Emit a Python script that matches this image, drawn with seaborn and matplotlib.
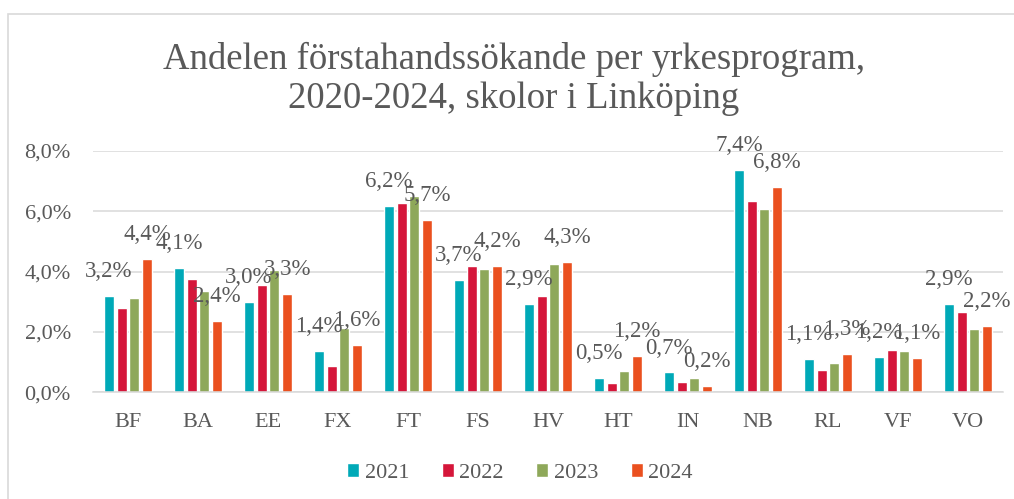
import matplotlib
matplotlib.use("Agg")
import matplotlib.pyplot as plt
import seaborn as sns
import pandas as pd
from matplotlib.patches import Rectangle

categories = ["BF", "BA", "EE", "FX", "FT", "FS", "HV", "HT", "IN", "NB", "RL", "VF", "VO"]
years = ["2021", "2022", "2023", "2024"]
v2021 = [3.20, 4.12, 3.00, 1.38, 6.17, 3.72, 2.93, 0.48, 0.66, 7.38, 1.10, 1.18, 2.93]
v2022 = [2.80, 3.76, 3.56, 0.87, 6.26, 4.19, 3.20, 0.31, 0.34, 6.35, 0.74, 1.40, 2.66]
v2023 = [3.13, 3.36, 4.06, 2.14, 6.51, 4.09, 4.25, 0.71, 0.47, 6.08, 0.97, 1.37, 2.10]
v2024 = [4.42, 2.38, 3.27, 1.57, 5.71, 4.19, 4.33, 1.20, 0.21, 6.81, 1.26, 1.14, 2.20]
yticks = [0, 2, 4, 6, 8]
title = "Andelen förstahandssökande per yrkesprogram,\n2020-2024, skolor i Linköping"
colors = ["#00A9B7", "#D5163A", "#8EA85A", "#EA501F"]

rows = []
for yr, vals in zip(years, [v2021, v2022, v2023, v2024]):
    for c, v in zip(categories, vals):
        rows.append({"kat": c, "år": yr, "andel": v / 100})
df = pd.DataFrame(rows)

sns.set_theme(style="white")
plt.rcParams["font.family"] = ["Liberation Serif", "DejaVu Serif"]
txt = "#595959"
serif = ["Liberation Serif", "DejaVu Serif"]

fig = plt.figure(figsize=(10.14, 4.99), dpi=100)
ax = fig.add_axes([93 / 1014, 1 - 392.3 / 499, 910 / 1014, (392.3 - 151) / 499])

sns.barplot(data=df, x="kat", y="andel", hue="år", palette=colors,
            width=0.73, gap=0.2, ax=ax, legend=True, saturation=1, errorbar=None)

ax.set_ylim(0, 0.08)
ax.set_xlim(-0.5, len(categories) - 0.5)
ax.set_yticks([t / 100 for t in yticks])
ax.set_yticklabels([f"{t:.1f}%".replace(".", ",") for t in yticks])
ax.set_xlabel("")
ax.set_ylabel("")
ax.grid(axis="y", color="#D9D9D9", linewidth=1.1)
ax.set_axisbelow(True)
for s in ["left", "right", "top"]:
    ax.spines[s].set_visible(False)
ax.spines["bottom"].set_color("#D9D9D9")
ax.spines["bottom"].set_linewidth(1.1)
ax.tick_params(axis="both", length=0, labelsize=16, colors=txt)
ax.tick_params(axis="y", pad=16)
ax.tick_params(axis="x", pad=15)

for idx in [0, 3]:
    cont = ax.containers[idx]
    labels = [f"{b.get_height()*100:.1f}%".replace(".", ",") for b in cont]
    ax.bar_label(cont, labels=labels, padding=10, fontsize=16.5, color=txt)

handles, labs = ax.get_legend_handles_labels()
ax.get_legend().remove()
fig.legend(handles, labs, loc="center", bbox_to_anchor=(520 / 1014, 1 - 473 / 499),
           ncol=4, frameon=False, prop={"family": serif, "size": 16}, labelcolor=txt,
           handlelength=0.55, handleheight=0.55, handletextpad=0.25, columnspacing=1.45)

fig.text(514 / 1014, 1 - 79 / 499, title, ha="center", va="center",
         fontsize=26.5, color=txt, linespacing=1.15)

fig.patches.append(Rectangle((8 / 1014, -0.01), 1.05, 1 - 14 / 499 + 0.01,
                             transform=fig.transFigure, fill=False,
                             edgecolor="#D9D9D9", linewidth=1.2))

fig.savefig("out.png", dpi=100)
